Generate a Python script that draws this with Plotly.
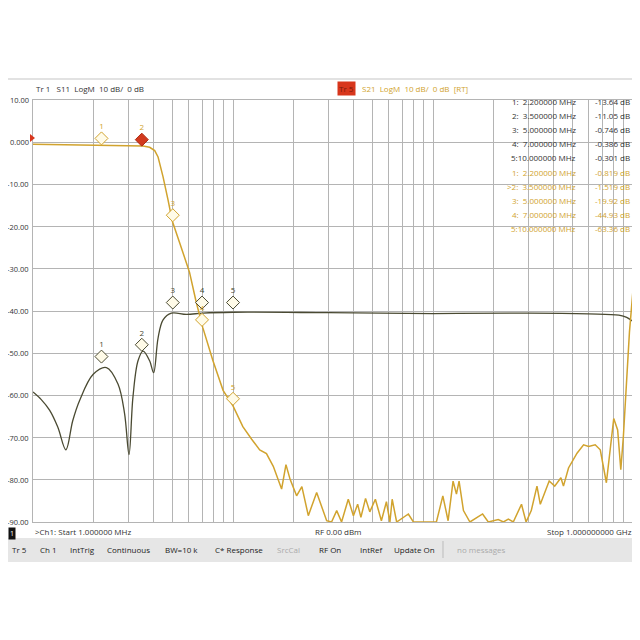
import plotly.graph_objects as go

# frequencies in MHz, levels in dB
s21_freq = [1.0, 1.5, 2.2, 3.04, 3.55, 3.83, 4.06, 4.22, 4.47, 4.73, 4.97, 5.41, 6.06, 6.54, 7.07, 7.94, 8.92,
            10.0, 11.2, 12.4, 13.6, 14.7, 15.9, 17.5, 18.4, 19.3, 20.8, 22.1, 23.8, 26.2, 29.4, 31.1, 33, 34.9,
            37.7, 40, 42, 43.6, 46, 48.3, 51.5, 55.2, 58.5, 60.9, 62.5, 65.8, 75.3, 79.8, 104, 112, 119, 126,
            131, 135, 142, 153, 177, 189, 212, 225, 238, 252, 277, 292, 310, 331, 344, 381, 406, 436, 449, 476,
            525, 566, 600, 647, 686, 736, 801, 838, 869, 895, 926, 960, 1000]
s21_db = [-0.5, -0.6, -0.7, -0.8, -0.9, -1.2, -2.0, -3.5, -8.2, -13.6, -18.7, -23.8, -30.8, -37.8, -44.0, -51.8,
          -58.8, -62.5, -67.4, -70.4, -72.9, -73.8, -76.8, -82.2, -76.4, -79.9, -83.8, -81.6, -88.5, -83.0, -89.7,
          -90.0, -87.3, -90.0, -84.6, -88.5, -85.8, -88.9, -84.4, -87.6, -84.6, -89.7, -85.2, -90.0, -84.6, -90.0,
          -88.1, -90.0, -90.0, -83.8, -89.7, -80.3, -83.4, -80.3, -87.3, -90.0, -88.1, -90.0, -89.4, -90.0, -89.3,
          -90.0, -85.8, -90.0, -87.3, -81.5, -85.8, -80.3, -81.5, -79.5, -81.5, -77.2, -73.7, -71.7, -72.1, -71.7,
          -72.9, -80.7, -65.5, -68.2, -77.6, -69.8, -56.5, -45.0, -35.0]

s11_freq = [1.0, 1.1, 1.21, 1.33, 1.46, 1.58, 1.71, 2.0, 2.33, 2.66, 2.87, 3.02, 3.16, 3.35, 3.55, 3.83, 4.01,
            4.22, 4.47, 4.92, 5.85, 7.07, 10, 30, 100, 300, 600, 850, 930, 1000]
s11_db = [-59.2, -61.0, -63.5, -67.5, -72.9, -66.0, -61.2, -55.0, -53.4, -57.3, -64.3, -74.0, -60.4, -51.8,
          -49.5, -51.8, -54.6, -46.4, -42.1, -40.5, -40.8, -40.5, -40.3, -40.4, -40.6, -40.5, -40.7, -41.0,
          -41.5, -42.5]

marker_freq = [2.2, 3.5, 5.0, 7.0, 10.0]
marker_s11 = [-52.3, -49.5, -39.5, -39.5, -39.5]
marker_s21 = [-0.6, -0.9, -18.8, -43.6, -62.3]
marker_ids = ['1', '2', '3', '4', '5']

table_left = ['1:  2.200000 MHz', '2:  3.500000 MHz', '3:  5.000000 MHz', '4:  7.000000 MHz', '5:10.000000 MHz',
              '1:  2.200000 MHz', '>2:  3.500000 MHz', '3:  5.000000 MHz', '4:  7.000000 MHz', '5:10.000000 MHz']
table_right = ['-13.64 dB', '-11.05 dB', '-0.746 dB', '-0.386 dB', '-0.301 dB',
               '-0.819 dB', '-1.519 dB', '-19.92 dB', '-44.93 dB', '-63.36 dB']

status_items = ['Tr 5', 'Ch 1', 'IntTrig', 'Continuous', 'BW=10 k', 'C* Response', 'SrcCal', 'RF On', 'IntRef',
                'Update On', 'no messages']
status_x = [10, 38, 68, 105, 163, 213, 275, 317, 358, 392, 455]

YELLOW = '#d1a32e'
DARK = '#4a4a32'
FONT = 'Open Sans'

# page body has an 8px margin, so the figure is offset by 8
OFF = 8
W = H = 632
def px(x):
    return min(max(x - OFF, 0) / W, 1)
def py(y):
    return min(max(1 - (y - OFF) / H, 0), 1)

def text(x, y, t, color='#333', anchor='left', size=8, **kw):
    return dict(x=px(x), y=py(y), xref='paper', yref='paper', text=t, showarrow=False,
                xanchor=anchor, yanchor='middle', font=dict(size=size, color=color, family=FONT), **kw)

fig = go.Figure()
fig.add_trace(go.Scatter(x=s11_freq, y=s11_db, mode='lines', line=dict(color=DARK, width=1.3), line_shape='spline'))
fig.add_trace(go.Scatter(x=s21_freq, y=s21_db, mode='lines', line=dict(color=YELLOW, width=1.5)))

fig.add_trace(go.Scatter(x=marker_freq, y=[v + 1.5 for v in marker_s11], mode='markers+text', text=marker_ids,
                         textposition='top center', textfont=dict(size=8, color=DARK, family=FONT),
                         marker=dict(symbol='diamond', size=10, color='#fffbe8', line=dict(color=DARK, width=1))))
s21_colors = ['#fffbe8', '#d23a1e', '#fffbe8', '#fffbe8', '#fffbe8']
s21_line = [YELLOW, '#b02a10', YELLOW, YELLOW, YELLOW]
fig.add_trace(go.Scatter(x=marker_freq, y=[v + 1.5 for v in marker_s21], mode='markers+text', text=marker_ids,
                         textposition='top center', textfont=dict(size=8, color=YELLOW, family=FONT),
                         marker=dict(symbol='diamond', size=10, color=s21_colors, line=dict(color=s21_line, width=1))))

grid_vals = [m * 10 ** d for d in range(3) for m in range(1, 10)] + [1000]
fig.update_xaxes(type='log', range=[0, 3], domain=[px(33), px(633)], tickvals=grid_vals, showticklabels=False,
                 showgrid=True, gridcolor='#b4b4b4', gridwidth=1, zeroline=False, ticks='',
                 showline=True, linecolor='#b4b4b4', mirror=True)
fig.update_yaxes(range=[-90, 10], domain=[py(522), py(100)], dtick=10, showticklabels=False,
                 showgrid=True, gridcolor='#b4b4b4', zeroline=False, showline=True, linecolor='#b4b4b4', mirror=True)

ann = []
# y tick labels
for v in range(10, -100, -10):
    lab = '0.000' if v == 0 else f'{v:.2f}'
    ann.append(text(31, 100 + (10 - v) * 4.22, lab, anchor='right', size=7.5))

ann.append(text(34, 88, 'Tr 1   S11  LogM  10 dB/  0 dB'))
ann.append(text(337, 88, 'Tr 5', color='#7a1a0a', bgcolor='#d8361c'))
ann.append(text(360, 88, 'S21  LogM  10 dB/  0 dB  [RT]', color=YELLOW))

for i, (l, r) in enumerate(zip(table_left, table_right)):
    c = '#333' if i < 5 else YELLOW
    ann.append(text(578, 101 + i * 14.2, l, color=c, anchor='right'))
    ann.append(text(632, 101 + i * 14.2, r, color=c, anchor='right'))

ann.append(text(33, 531, '>Ch1: Start 1.000000 MHz'))
ann.append(text(313, 531, 'RF 0.00 dBm'))
ann.append(text(634, 531, 'Stop 1.000000000 GHz', anchor='right'))
ann.append(text(8, 533, '1', color='white', bgcolor='#111', size=7))

for t, x in zip(status_items, status_x):
    c = '#aaa' if t in ('SrcCal', 'no messages') else '#222'
    ann.append(text(x, 549, t, color=c))

shapes = [
    dict(type='rect', xref='paper', yref='paper', x0=0, x1=1, y0=py(562), y1=py(538), fillcolor='#e6e6e6',
         line_width=0, layer='below'),
    dict(type='line', xref='paper', yref='paper', x0=px(443), x1=px(443), y0=py(558), y1=py(541),
         line=dict(color='#bbb', width=1)),
    dict(type='line', xref='paper', yref='paper', x0=0, x1=1, y0=py(79), y1=py(79),
         line=dict(color='#e2e2e2', width=2)),
    # reference level arrows
    dict(type='path', xref='paper', yref='paper',
         path=f'M {px(30)} {py(134)} L {px(35)} {py(138)} L {px(30)} {py(142)} Z', fillcolor='#d8361c', line_width=0),
    dict(type='path', xref='paper', yref='paper',
         path=f'M {px(639)} {py(134)} L {px(634)} {py(138)} L {px(639)} {py(142)} Z', fillcolor='#d8361c', line_width=0),
]

fig.update_layout(width=W, height=H, margin=dict(l=0, r=0, t=0, b=0), showlegend=False,
                  paper_bgcolor='white', plot_bgcolor='white', annotations=ann, shapes=shapes)
fig.write_html('out.html')
